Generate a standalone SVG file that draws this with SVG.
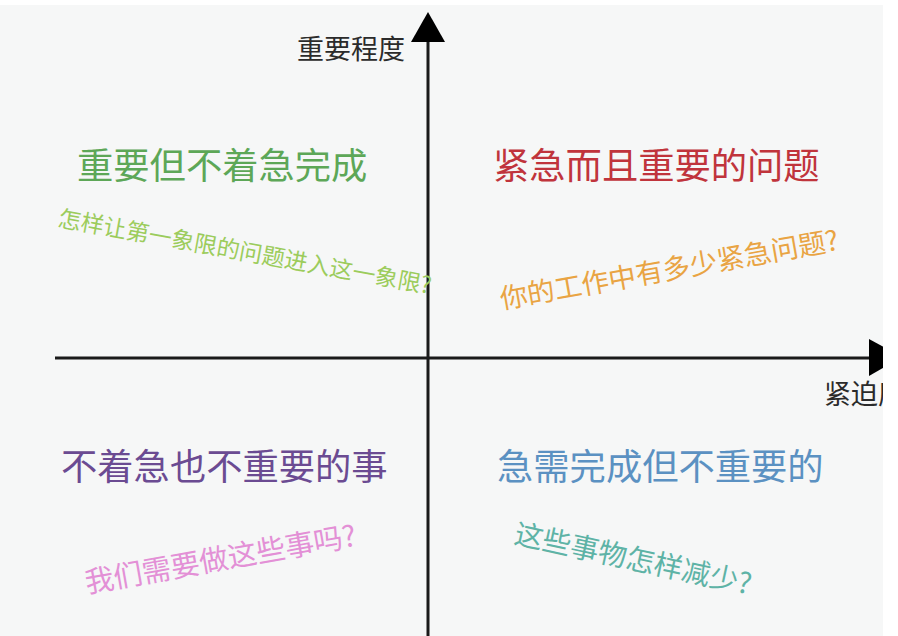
<svg xmlns="http://www.w3.org/2000/svg" width="898" height="636" viewBox="0 0 898 636">
<style>
text{font-family:"Noto Sans CJK SC","Noto Sans",sans-serif}
.axis{stroke:#1a1a1a;stroke-width:3;fill:none}
.head{fill:#000}
.lbl{font-size:27px;fill:#2b2b2b}
.title{font-size:36.3px}
</style>
<rect width="898" height="636" fill="#ffffff"/>
<rect x="0" y="5" width="883" height="631" fill="#f6f7f7"/>
<g id="connectors">
<line class="axis" x1="428" y1="40" x2="428" y2="636"/>
<polygon class="head" points="428,12 445,42 411,42"/>
<line class="axis" x1="55" y1="358" x2="872" y2="358"/>
<polygon class="head" points="902,357 869,339 869,376"/>
</g>
<g id="axis-y-label"><text class="lbl" x="297" y="59">重要程度</text></g>
<g id="axis-x-label"><text class="lbl" x="824" y="404">紧迫度</text></g>
<rect x="883" y="0" width="15" height="636" fill="#ffffff"/>
<g id="q2"><text class="title" x="77" y="179" fill="#5da757">重要但不着急完成</text>
<text x="57" y="226" font-size="23" fill="#9ccc5c" transform="rotate(10.3 57 226)">怎样让第一象限的问题进入这一象限?</text></g>
<g id="q1"><text class="title" x="493" y="179" fill="#c0343c">紧急而且重要的问题</text>
<text x="502" y="309" font-size="27.5" fill="#e9a443" transform="rotate(-10 502 309)">你的工作中有多少紧急问题?</text></g>
<g id="q3"><text class="title" x="61" y="480" fill="#6b4b92">不着急也不重要的事</text>
<text x="87" y="593" font-size="29" fill="#e390d6" transform="rotate(-10 87 593)">我们需要做这些事吗?</text></g>
<g id="q4"><text class="title" x="497" y="480" fill="#5b91c2">急需完成但不重要的</text>
<text x="513" y="543" font-size="28.5" fill="#5eb3a6" transform="rotate(12.3 513 543)">这些事物怎样减少?</text></g>
</svg>
